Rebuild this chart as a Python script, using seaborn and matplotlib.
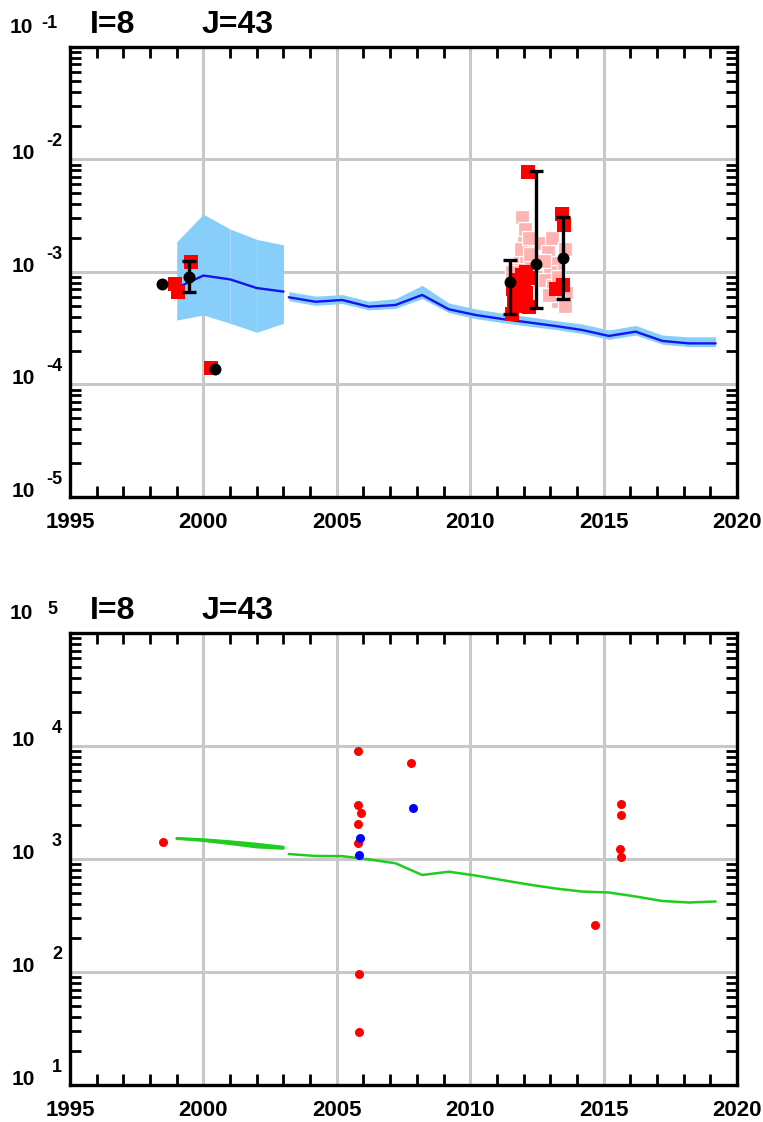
import matplotlib
matplotlib.use("Agg")
import matplotlib.pyplot as plt
import matplotlib.transforms as mtransforms
from matplotlib.ticker import FixedLocator, LogLocator, NullFormatter
import numpy as np
import pandas as pd
import seaborn as sns

# ---------------- upper panel ----------------
# wide uncertainty band and its central line, 1999-2003
early_years = [1999.0, 2000.0, 2001.0, 2002.0, 2003.0]
early_hi = [1.86e-3, 3.26e-3, 2.41e-3, 1.95e-3, 1.74e-3]
early_lo = [3.74e-4, 4.15e-4, 3.50e-4, 2.91e-4, 3.50e-4]
early_line_years = [1999.2, 2000.0, 2001.0, 2002.0, 2003.0]
early_line = [7.6e-4, 9.3e-4, 8.6e-4, 7.2e-4, 6.7e-4]

# narrow band and central line, 2003-2019
late_years = [2003.2, 2004.2, 2005.2, 2006.2, 2007.2, 2008.2, 2009.2, 2010.2, 2011.2,
              2012.2, 2013.2, 2014.2, 2015.2, 2016.2, 2017.2, 2018.2, 2019.2]
late_line = [5.96e-4, 5.44e-4, 5.64e-4, 4.92e-4, 5.09e-4, 6.25e-4, 4.66e-4, 4.15e-4, 3.82e-4,
             3.56e-4, 3.31e-4, 3.05e-4, 2.70e-4, 2.95e-4, 2.44e-4, 2.32e-4, 2.32e-4]
late_hi = [6.7e-4, 6.1e-4, 6.3e-4, 5.5e-4, 5.8e-4, 7.6e-4, 5.3e-4, 4.7e-4, 4.3e-4,
           4.0e-4, 3.7e-4, 3.45e-4, 3.05e-4, 3.35e-4, 2.75e-4, 2.65e-4, 2.65e-4]
late_lo = [5.55e-4, 5.05e-4, 5.25e-4, 4.6e-4, 4.75e-4, 5.8e-4, 4.35e-4, 3.85e-4, 3.55e-4,
           3.3e-4, 3.08e-4, 2.84e-4, 2.52e-4, 2.75e-4, 2.28e-4, 2.17e-4, 2.17e-4]

# individual samples (solid red squares)
red_years = [1998.92, 1999.05, 1999.55, 2000.30,
             2011.55, 2011.65, 2011.60, 2011.80, 2011.75, 2011.95, 2012.00, 2011.90,
             2012.10, 2012.15, 2012.20, 2012.10, 2012.17,
             2013.45, 2013.50, 2013.48, 2013.20]
red_vals = [7.9e-4, 6.7e-4, 1.23e-3, 1.40e-4,
            4.2e-4, 5.5e-4, 7.0e-4, 8.5e-4, 6.0e-4, 9.5e-4, 7.5e-4, 5.0e-4,
            6.5e-4, 8.8e-4, 4.9e-4, 1.0e-3, 7.8e-3,
            3.3e-3, 2.6e-3, 7.6e-4, 7.0e-4]

# flagged samples (light squares)
pink_years = [2011.95, 2012.05, 2012.00, 2011.85, 2012.10, 2011.75, 2011.90, 2012.20, 2012.25, 2011.55,
              2012.75, 2012.90, 2013.05, 2013.20, 2013.00, 2012.80, 2013.10, 2013.30, 2013.55,
              2013.60, 2013.30, 2012.95, 2013.55, 2012.75]
pink_vals = [3.1e-3, 2.4e-3, 1.8e-3, 1.35e-3, 1.3e-3, 1.05e-3, 1.6e-3, 2.0e-3, 1.45e-3, 1.0e-3,
             1.8e-3, 1.5e-3, 2.0e-3, 1.2e-3, 1.0e-3, 8.5e-4, 7.5e-4, 9.0e-4, 1.6e-3,
             6.5e-4, 5.5e-4, 6.3e-4, 5.0e-4, 1.25e-3]

# yearly means with ranges
mean_years = [1998.45, 1999.47, 2000.45, 2011.50, 2012.48, 2013.46]
mean_vals = [7.8e-4, 9.1e-4, 1.37e-4, 8.1e-4, 1.19e-3, 1.32e-3]
mean_lo = [np.nan, 6.7e-4, np.nan, 4.2e-4, 4.75e-4, 5.8e-4]
mean_hi = [np.nan, 1.25e-3, np.nan, 1.28e-3, 7.9e-3, 3.1e-3]

# ---------------- lower panel ----------------
green_a_years = [1999.0, 2000.0, 2001.0, 2002.0, 2003.0]
green_a_hi = [1530, 1490, 1430, 1360, 1280]
green_a_mid = [1520, 1470, 1395, 1315, 1255]
green_a_lo = [1510, 1450, 1360, 1270, 1235]
green_b_years = late_years
green_b = [1107, 1064, 1060, 991, 917, 722, 772, 714, 651, 594, 548, 515, 505, 466, 425, 412, 421]

red_b_years = [1998.47, 2005.81, 2005.81, 2005.90, 2005.81, 2005.81, 2005.85, 2005.85,
               2007.77, 2014.68, 2015.65, 2015.67, 2015.63, 2015.65]
red_b_vals = [1406, 9090, 3005, 2535, 2040, 1377, 96, 29.2,
              7030, 261, 3050, 2450, 1219, 1047]
blue_b_years = [2005.88, 2005.85, 2007.87]
blue_b_vals = [1525, 1084, 2845]

title_left = "I=8"
title_right = "J=43"
x_ticks = [1995, 2000, 2005, 2010, 2015, 2020]

# ---------------- styling ----------------
sns.set_theme(style="white")
plt.rcParams["font.family"] = ["Liberation Sans", "DejaVu Sans"]
plt.rcParams["axes.linewidth"] = 2.2
plt.rcParams["axes.edgecolor"] = "black"
plt.rcParams["text.color"] = "black"
plt.rcParams["xtick.color"] = "black"
plt.rcParams["ytick.color"] = "black"
plt.rcParams["xtick.labelcolor"] = "black"
plt.rcParams["ytick.labelcolor"] = "black"

W, H = 763, 1122
fig = plt.figure(figsize=(W / 100, H / 100), dpi=100)
fig.patch.set_facecolor("white")

def px_axes(left, top, right, bottom):
    return fig.add_axes([left / W, 1 - bottom / H, (right - left) / W, (bottom - top) / H])

ax1 = px_axes(70, 47, 737, 497)
ax2 = px_axes(70, 633, 737, 1085)

GRID = "#c8c8c8"
BAND = "#87cefa"
LINE = "#1414ee"


def frame(ax, ylo_exp, yhi_exp):
    ax.set_xlim(1995, 2020)
    ax.set_yscale("log")
    ax.set_ylim(10.0 ** ylo_exp, 10.0 ** yhi_exp)
    ax.set_axisbelow(True)
    ax.xaxis.set_major_locator(FixedLocator(x_ticks))
    ax.xaxis.set_minor_locator(FixedLocator([y for y in range(1995, 2021) if y % 5]))
    ax.yaxis.set_major_locator(FixedLocator([10.0 ** e for e in range(ylo_exp, yhi_exp + 1)]))
    ax.yaxis.set_minor_locator(LogLocator(base=10, subs=np.arange(2, 10), numticks=20))
    ax.yaxis.set_minor_formatter(NullFormatter())
    ax.set_xticklabels([str(t) for t in x_ticks], fontsize=16, fontweight="bold", color="black")
    ax.set_yticklabels([])
    ax.tick_params(which="major", direction="in", length=0, pad=11,
                   top=True, right=True, left=True, bottom=True)
    ax.tick_params(which="minor", direction="in", length=8, width=2.0,
                   top=True, right=True, left=True, bottom=True, color="black")
    ax.grid(True, which="major", color=GRID, linewidth=2.2)
    ax.set_xlabel("")
    ax.set_ylabel("")
    for sp in ax.spines.values():
        sp.set_linewidth(2.4)
        sp.set_zorder(10)
    # decade labels written as 10 with a raised exponent
    base = mtransforms.blended_transform_factory(ax.transAxes, ax.transData)
    for e in range(ylo_exp, yhi_exp + 1):
        if e == yhi_exp:
            dx10, dy10, dxe, dye = -37, 14, -13, 19
        else:
            dx10, dy10, dxe, dye = -35, 0, -8, 13
        t10 = base + mtransforms.ScaledTranslation(dx10 / 100, dy10 / 100, fig.dpi_scale_trans)
        tex = base + mtransforms.ScaledTranslation(dxe / 100, dye / 100, fig.dpi_scale_trans)
        ax.text(0, 10.0 ** e, "10", transform=t10, ha="right", va="baseline",
                fontsize=15, fontweight="bold", color="black", clip_on=False)
        ax.text(0, 10.0 ** e, f"{e}", transform=tex, ha="right", va="baseline",
                fontsize=13, fontweight="bold", color="black", clip_on=False)


# ---- upper panel drawing ----
for i in range(len(early_years) - 1):
    ax1.fill_between(early_years[i:i + 2], early_lo[i:i + 2], early_hi[i:i + 2],
                     color=BAND, linewidth=0, zorder=2)
ax1.fill_between(late_years, late_lo, late_hi, color=BAND, linewidth=0, zorder=2)

sns.lineplot(x=early_line_years, y=early_line, ax=ax1, color=LINE, linewidth=1.7,
             sort=False, estimator=None, zorder=3)
sns.lineplot(x=late_years, y=late_line, ax=ax1, color=LINE, linewidth=1.7,
             sort=False, estimator=None, zorder=3)

sns.scatterplot(x=pink_years, y=pink_vals, ax=ax1, marker="s", s=88, color="#ffb4b4",
                edgecolor="white", linewidth=0.9, zorder=4)
sns.scatterplot(x=red_years, y=red_vals, ax=ax1, marker="s", s=88, color="#ff0000",
                linewidth=0, zorder=4)

means = pd.DataFrame({"year": mean_years, "val": mean_vals, "lo": mean_lo, "hi": mean_hi})
bars = means.dropna()
ax1.errorbar(bars["year"], bars["val"],
             yerr=[bars["val"] - bars["lo"], bars["hi"] - bars["val"]],
             fmt="none", ecolor="black", elinewidth=2.4, capsize=5, capthick=2.4, zorder=5)
sns.scatterplot(data=means, x="year", y="val", ax=ax1, color="black", s=74,
                linewidth=0, zorder=6)

frame(ax1, -5, -1)

# ---- lower panel drawing ----
for series in (green_a_hi, green_a_mid, green_a_lo):
    sns.lineplot(x=green_a_years, y=series, ax=ax2, color="#1fcc1f", linewidth=1.7,
                 sort=False, estimator=None, zorder=3)
sns.lineplot(x=green_b_years, y=green_b, ax=ax2, color="#1fcc1f", linewidth=1.8,
             sort=False, estimator=None, zorder=3)
sns.scatterplot(x=red_b_years, y=red_b_vals, ax=ax2, color="#ff0000", s=42,
                linewidth=0, zorder=4)
sns.scatterplot(x=blue_b_years, y=blue_b_vals, ax=ax2, color="#0000ff", s=42,
                linewidth=0, zorder=5)

frame(ax2, 1, 5)

# ---- panel titles ----
for base_px in (33, 619):
    fig.text(90 / W, 1 - base_px / H, title_left, fontsize=23, fontweight="bold",
             color="black", ha="left", va="baseline")
    fig.text(202 / W, 1 - base_px / H, title_right, fontsize=23, fontweight="bold",
             color="black", ha="left", va="baseline")

fig.savefig("out.png", dpi=100, facecolor="white")
